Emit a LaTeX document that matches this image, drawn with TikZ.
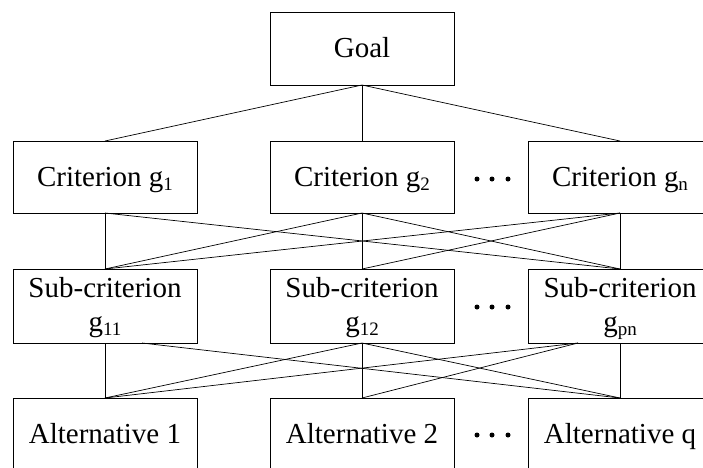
\documentclass[tikz,border=0pt]{standalone}
\usepackage{fontspec}
\setmainfont{Liberation Serif}
\newcommand{\lowidx}[1]{{\fontsize{19}{19}\selectfont\raisebox{-4pt}{#1}}}
\newcommand{\twoline}[2]{\vtop{\baselineskip=34pt\halign{\hfil##\hfil\cr#1\cr#2\cr}}}
\tikzset{
  box/.style={draw=black, line width=0.8pt, rectangle, anchor=north, minimum width=184pt,
    inner ysep=0pt, inner xsep=2pt, outer sep=0pt, font=\fontsize{29}{34}\selectfont},
  goalbox/.style={box, text height=45pt, text depth=28pt},
  critbox/.style={box, text height=45pt, text depth=27pt},
  subbox/.style={box, text height=28pt, text depth=46pt},
  altbox/.style={box, text height=45pt, text depth=32pt},
  link/.style={draw=black, line width=0.7pt},
  dotmark/.style={fill=black, circle, inner sep=0pt, minimum size=5pt}
}
\begin{document}
\begin{tikzpicture}[x=1pt,y=-1pt]
\useasboundingbox (0,0) rectangle (703,467);
\clip (0,0) rectangle (703,467);

\node[goalbox] (goal) at (362,12) {Goal};

\node[critbox] (c1) at (105,141) {Criterion g\lowidx{1}};
\node[critbox] (c2) at (362,141) {Criterion g\lowidx{2}};
\node[critbox] (c3) at (620,141) {Criterion g\lowidx{n}};

\node[subbox] (s1) at (105,269) {\twoline{Sub-criterion}{g\lowidx{11}}};
\node[subbox] (s2) at (362,269) {\twoline{Sub-criterion}{g\lowidx{12}}};
\node[subbox] (s3) at (620,269) {\twoline{Sub-criterion}{g\lowidx{pn}}};

\node[altbox] (a1) at (105,398) {Alternative 1};
\node[altbox] (a2) at (362,398) {Alternative 2};
\node[altbox] (a3) at (620,398) {Alternative q};

% dots
\foreach \yy/\nm in {179/r1,307/r2,435/r3}{
  \node[dotmark] (\nm a) at (477,\yy) {};
  \node[dotmark] (\nm b) at (492,\yy) {};
  \node[dotmark] (\nm c) at (508,\yy) {};
}

% goal to criteria
\draw[link] (goal.south) -- (c1.north);
\draw[link] (goal.south) -- (c2.north);
\draw[link] (goal.south) -- (c3.north);

% criteria to sub-criteria
\draw[link] (c1.south) -- (s1.north);
\draw[link] (c1.south) -- (s3.north);
\draw[link] (c2.south) -- (s1.north);
\draw[link] (c2.south) -- (s2.north);
\draw[link] (c2.south) -- (s3.north);
\draw[link] (c3.south) -- (s1.north);
\draw[link] (c3.south) -- (s2.north);
\draw[link] (c3.south) -- (s3.north);

% sub-criteria to alternatives
\coordinate (s1o) at ([xshift=37pt]s1.south);
\coordinate (s3o) at ([xshift=-42pt]s3.south);
\draw[link] (s1.south) -- (a1.north);
\draw[link] (s1o) -- (a3.north);
\draw[link] (s2.south) -- (a1.north);
\draw[link] (s2.south) -- (a2.north);
\draw[link] (s2.south) -- (a3.north);
\draw[link] (s3o) -- (a1.north);
\draw[link] (s3o) -- (a2.north);
\draw[link] (s3.south) -- (a3.north);
\end{tikzpicture}
\end{document}
